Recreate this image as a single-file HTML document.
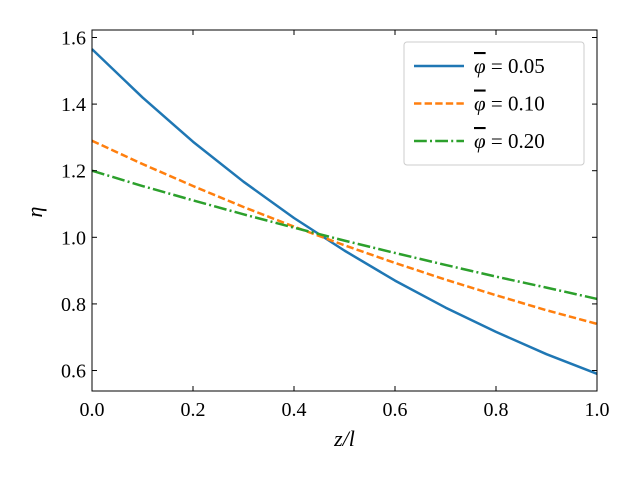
<!DOCTYPE html>
<html><head><meta charset="utf-8"><style>
body{margin:0;background:#fff}
svg text{font-family:"Liberation Serif","DejaVu Serif",serif;fill:#000}
</style></head><body>
<svg width="640" height="480" xmlns="http://www.w3.org/2000/svg">
<g id="plot"></g>
</svg>
<script>
const xs=[0,0.1,0.2,0.3,0.4,0.5,0.6,0.7,0.8,0.9,1.0];
const blue=[1.565,1.42,1.287,1.167,1.058,0.960,0.870,0.789,0.716,0.649,0.59];
const orange=[1.29,1.220,1.154,1.091,1.032,0.976,0.923,0.873,0.826,0.781,0.74];
const green=[1.2,1.154,1.111,1.069,1.029,0.990,0.953,0.917,0.882,0.849,0.815];
const xTicks=[0,0.2,0.4,0.6,0.8,1.0];
const xTickLabels=["0.0","0.2","0.4","0.6","0.8","1.0"];
const yTicks=[0.6,0.8,1.0,1.2,1.4,1.6];
const yTickLabels=["0.6","0.8","1.0","1.2","1.4","1.6"];
const seriesLabels=["0.05","0.10","0.20"];

const L=92,R=597,T=30,B=391,ymin=0.5385,ymax=1.6225;
const sx=v=>L+(v-0)/(1-0)*(R-L);
const sy=v=>B-(v-ymin)/(ymax-ymin)*(B-T);
const NS="http://www.w3.org/2000/svg";
const g=document.getElementById('plot');
function mk(t,a,p){const e=document.createElementNS(NS,t);for(const k in a)e.setAttribute(k,a[k]);(p||g).appendChild(e);return e;}

const series=[[blue,'#1f77b4','none','series-phi-0.05'],[orange,'#ff7f0e','7.4,3.2','series-phi-0.10'],[green,'#2ca02c','12.8,3.2,2,3.2','series-phi-0.20']];
series.forEach(s=>{
  const d=xs.map((x,i)=>(i?'L':'M')+sx(x).toFixed(2)+','+sy(s[0][i]).toFixed(2)).join('');
  const p=mk('path',{d:d,fill:'none',stroke:s[1],'stroke-width':2.5,'stroke-dasharray':s[2],'stroke-linejoin':'round'});
  
  
});
const frame=mk('rect',{x:L,y:T,width:R-L,height:B-T,fill:'none',stroke:'#000','stroke-width':1});



xTicks.forEach((v,i)=>{
  const x=sx(v);
  mk('line',{x1:x,x2:x,y1:B,y2:B-5,stroke:'#000'});
  mk('line',{x1:x,x2:x,y1:T,y2:T+5,stroke:'#000'});
  const t=mk('text',{x:x,y:B+25,'text-anchor':'middle','font-size':20});
  t.textContent=xTickLabels[i];
  
  
});
yTicks.forEach((v,i)=>{
  const y=sy(v);
  mk('line',{x1:L,x2:L+5,y1:y,y2:y,stroke:'#000'});
  mk('line',{x1:R,x2:R-5,y1:y,y2:y,stroke:'#000'});
  const t=mk('text',{x:L-6,y:y+7,'text-anchor':'end','font-size':20});
  t.textContent=yTickLabels[i];
  
  
});
const xt=mk('text',{x:(L+R)/2,y:446,'text-anchor':'middle','font-size':22,'font-style':'italic'});
xt.textContent='z/l';


const yt=mk('text',{x:42,y:212,'text-anchor':'middle','font-size':22,'font-style':'italic',transform:'rotate(-90 42 212)'});
yt.textContent='η';



const lg=mk('g',{});


mk('rect',{x:404,y:42,width:180,height:123,rx:3,fill:'#fff',stroke:'#ccc'},lg);
series.forEach((s,i)=>{
  const y=66+i*37.5;
  mk('line',{x1:414,x2:464,y1:y,y2:y,stroke:s[1],'stroke-width':2.5,'stroke-dasharray':s[2]},lg);
  const t=mk('text',{x:474,y:y+7,'font-size':21},lg);
  t.innerHTML='<tspan font-style="italic" style="text-decoration:overline">φ</tspan> = '+seriesLabels[i];
  
  
});
</script>
</body></html>
